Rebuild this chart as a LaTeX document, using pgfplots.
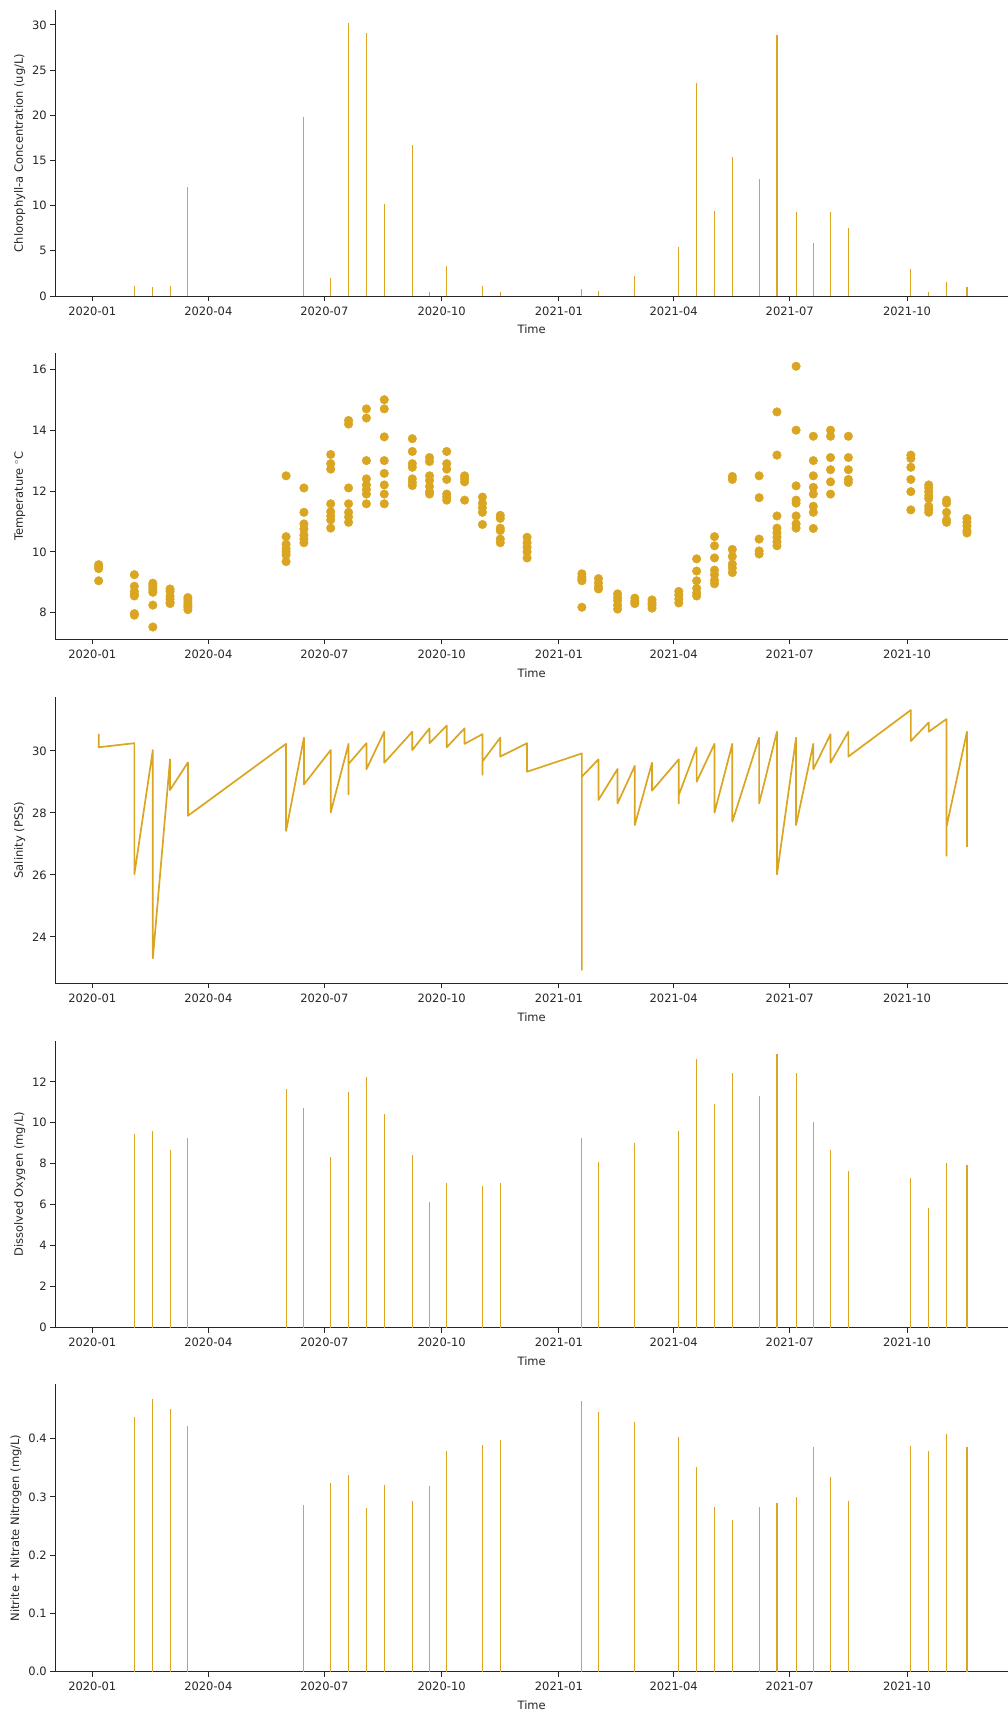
\documentclass[border=0pt]{standalone}
\usepackage{fontspec}
\setmainfont{DejaVu Sans}
\usepackage{pgfplots}
\pgfplotsset{compat=1.18}
\definecolor{gold}{HTML}{DAA520}
\definecolor{txt}{HTML}{262626}
\pgfplotsset{
  base/.style={
    scale only axis, width=952.7pt,
    xmin=-29, xmax=718.2,
    axis lines*=left,
    axis line style={txt, line width=1pt},
    tick align=outside, major tick length=5pt,
    tick style={txt, line width=1pt},
    xtick={0,91,182,274,366,456,547,639},
    xticklabels={2020-01,2020-04,2020-07,2020-10,2021-01,2021-04,2021-07,2021-10},
    every tick label/.append style={font=\fontsize{11.5}{13}\selectfont, text=txt},
    xticklabel style={yshift=-2pt},
    label style={font=\fontsize{11.5}{13}\selectfont, text=txt},
    xlabel style={yshift=-3pt},
    /pgf/number format/assume math mode=true,
    xlabel={Time},
    clip=false,
  },
  bars/.style={ycomb, draw=gold, line width=1.1pt, mark=none},
}
\begin{document}
\begin{tikzpicture}
\useasboundingbox (0,0) rectangle (1008pt,-1710pt);

% Chlorophyll-a
\begin{axis}[base, at={(55.3pt,-296pt)}, anchor=south west, height=286pt,
  ymin=0, ymax=31.66, ytick={0,5,10,15,20,25,30},
  ylabel={Chlorophyll-a Concentration (ug/L)}]
\addplot[bars] coordinates {
(33,1.1) (47.5,1.0) (61,1.1) (75,12.07) (166,19.8) (187,1.96) (201,30.2) (215,29.15)
(229,10.2) (251,16.7) (264.5,0.44) (278,3.28) (306,1.1) (320,0.44) (384,0.74) (397,0.59)
(425.5,2.2) (460,5.46) (474,23.6) (488,9.4) (502,15.35) (523,12.9) (537,28.9) (552,9.26)
(565.5,5.87) (579,9.3) (593,7.5) (642,3.03) (656,0.44) (670,1.55) (686,1.0)};
\end{axis}

% Temperature
\begin{axis}[base, at={(55.3pt,-639.3pt)}, anchor=south west, height=286pt,
  ymin=7.126, ymax=16.526, ytick={8,10,12,14,16},
  ylabel={Temperature $^{\circ}$C}]
\addplot[only marks, mark=*, mark size=4.3pt, color=gold, mark options={draw=none, fill=gold}] table {
x y
5 9.58
5 9.52
5 9.45
5 9.05
33 9.25
33 8.87
33 8.7
33 8.6
33 8.55
33 7.97
33 7.92
47.5 8.97
47.5 8.9
47.5 8.83
47.5 8.75
47.5 8.67
47.5 8.25
47.5 7.53
61 8.78
61 8.7
61 8.55
61 8.45
61 8.35
61 8.3
75 8.5
75 8.42
75 8.33
75 8.25
75 8.18
75 8.1
152 12.5
152 10.5
152 10.25
152 10.1
152 10.0
152 9.9
152 9.68
166 12.1
166 11.3
166 10.92
166 10.75
166 10.55
166 10.42
166 10.3
187 13.2
187 12.9
187 12.72
187 11.58
187 11.32
187 11.18
187 11.05
187 10.78
201 14.32
201 14.2
201 12.1
201 11.58
201 11.3
201 11.15
201 10.97
215 14.7
215 14.4
215 13.0
215 12.4
215 12.2
215 12.05
215 11.9
215 11.58
229 15.0
229 14.7
229 13.78
229 13.0
229 12.58
229 12.2
229 11.9
229 11.58
251 13.72
251 13.3
251 12.9
251 12.78
251 12.4
251 12.28
251 12.18
264.5 13.1
264.5 12.97
264.5 12.5
264.5 12.35
264.5 12.15
264.5 11.98
264.5 11.9
278 13.3
278 12.9
278 12.72
278 12.38
278 11.9
278 11.8
278 11.7
292 12.5
292 12.4
292 12.3
292 11.7
306 11.8
306 11.6
306 11.45
306 11.3
306 10.9
320 11.2
320 11.1
320 10.78
320 10.7
320 10.42
320 10.3
341 10.48
341 10.3
341 10.15
341 10.0
341 9.8
384 9.28
384 9.17
384 9.1
384 9.05
384 8.18
397 9.12
397 8.98
397 8.85
397 8.78
412 8.62
412 8.5
412 8.4
412 8.25
412 8.12
425.5 8.48
425.5 8.38
425.5 8.3
439 8.42
439 8.32
439 8.25
439 8.15
460 8.7
460 8.58
460 8.45
460 8.32
474 9.77
474 9.37
474 9.05
474 8.8
474 8.65
474 8.55
488 10.5
488 10.2
488 9.8
488 9.4
488 9.25
488 9.07
488 8.95
502 12.48
502 12.38
502 10.08
502 9.85
502 9.6
502 9.47
502 9.32
523 12.5
523 11.78
523 10.42
523 10.03
523 9.93
537 14.6
537 13.18
537 11.18
537 10.78
537 10.63
537 10.48
537 10.33
537 10.2
552 16.1
552 14.0
552 12.17
552 11.7
552 11.6
552 11.18
552 10.92
552 10.78
565.5 13.8
565.5 13.0
565.5 12.5
565.5 12.12
565.5 11.9
565.5 11.5
565.5 11.3
565.5 10.77
579 14.0
579 13.8
579 13.1
579 12.7
579 12.3
579 11.9
593 13.8
593 13.1
593 12.7
593 12.38
593 12.28
642 13.18
642 13.07
642 12.78
642 12.38
642 11.98
642 11.38
656 12.2
656 12.1
656 11.98
656 11.85
656 11.75
656 11.5
656 11.4
656 11.3
670 11.7
670 11.6
670 11.3
670 11.05
670 10.97
686 11.1
686 10.97
686 10.85
686 10.7
686 10.62
};
\end{axis}

% Salinity
\begin{axis}[base, at={(55.3pt,-983.3pt)}, anchor=south west, height=286.6pt,
  ymin=22.506, ymax=31.75, ytick={24,26,28,30},
  ylabel={Salinity (PSS)}]
\addplot[gold, line width=1.7pt, mark=none, line join=round] coordinates {
(5,30.55) (5,30.12)
(33,30.25) (33,26.02)
(47.5,30.03) (47.5,23.31)
(61,29.73) (61,28.74)
(75,29.63) (75,27.91)
(152,30.23) (152,27.42)
(166,30.43) (166,28.92)
(187,30.03) (187,28.02)
(201,30.23) (201,28.6) (201,29.58)
(215,30.25) (215,29.41)
(229,30.62) (229,29.62)
(251,30.62) (251,30.03)
(264.5,30.73) (264.5,30.25)
(278,30.82) (278,30.12)
(292,30.73) (292,30.23)
(306,30.54) (306,29.23) (306,29.66)
(320,30.43) (320,29.82)
(341,30.25) (341,29.33)
(384,29.92) (384,22.94) (384,29.17)
(397,29.73) (397,28.42)
(412,29.42) (412,28.31)
(425.5,29.52) (425.5,27.61)
(439,29.62) (439,28.72)
(460,29.73) (460,28.31) (460,28.58)
(474,30.12) (474,29.01)
(488,30.23) (488,28.01)
(502,30.23) (502,27.72)
(523,30.43) (523,28.31)
(537,30.62) (537,26.02)
(552,30.43) (552,27.61)
(565.5,30.23) (565.5,29.41)
(579,30.54) (579,29.62)
(593,30.62) (593,29.82)
(642,31.32) (642,30.32)
(656,30.92) (656,30.62)
(670,31.03) (670,26.62) (670,27.56)
(686,30.62) (686,26.91)};
\end{axis}

% Dissolved oxygen
\begin{axis}[base, at={(55.3pt,-1327.7pt)}, anchor=south west, height=286.7pt,
  ymin=0, ymax=13.99, ytick={0,2,4,6,8,10,12},
  ylabel={Dissolved Oxygen (mg/L)}]
\addplot[bars] coordinates {
(33,9.43) (47.5,9.61) (61,8.65) (75,9.25) (152,11.63) (166,10.73) (187,8.34) (201,11.51)
(215,12.23) (229,10.44) (251,8.41) (264.5,6.15) (278,7.04) (306,6.91) (320,7.04)
(384,9.24) (397,8.1) (425.5,8.99) (460,9.59) (474,13.1) (488,10.91) (502,12.41)
(523,11.32) (537,13.35) (552,12.41) (565.5,10.02) (579,8.65) (593,7.63) (642,7.33)
(656,5.84) (670,8.05) (686,7.93)};
\end{axis}

% Nitrite + Nitrate
\begin{axis}[base, at={(55.3pt,-1671.7pt)}, anchor=south west, height=287.4pt,
  ymin=0, ymax=0.493, ytick={0,0.1,0.2,0.3,0.4},
  yticklabel style={/pgf/number format/.cd, fixed, fixed zerofill, precision=1},
  ylabel={Nitrite + Nitrate Nitrogen (mg/L)}]
\addplot[bars] coordinates {
(33,0.437) (47.5,0.468) (61,0.451) (75,0.422) (166,0.286) (187,0.324) (201,0.338)
(215,0.280) (229,0.320) (251,0.292) (264.5,0.318) (278,0.379) (306,0.389) (320,0.397)
(384,0.465) (397,0.446) (425.5,0.429) (460,0.403) (474,0.351) (488,0.282) (502,0.261)
(523,0.282) (537,0.290) (552,0.300) (565.5,0.385) (579,0.334) (593,0.292) (642,0.387)
(656,0.379) (670,0.408) (686,0.385)};
\end{axis}
\end{tikzpicture}
\end{document}
